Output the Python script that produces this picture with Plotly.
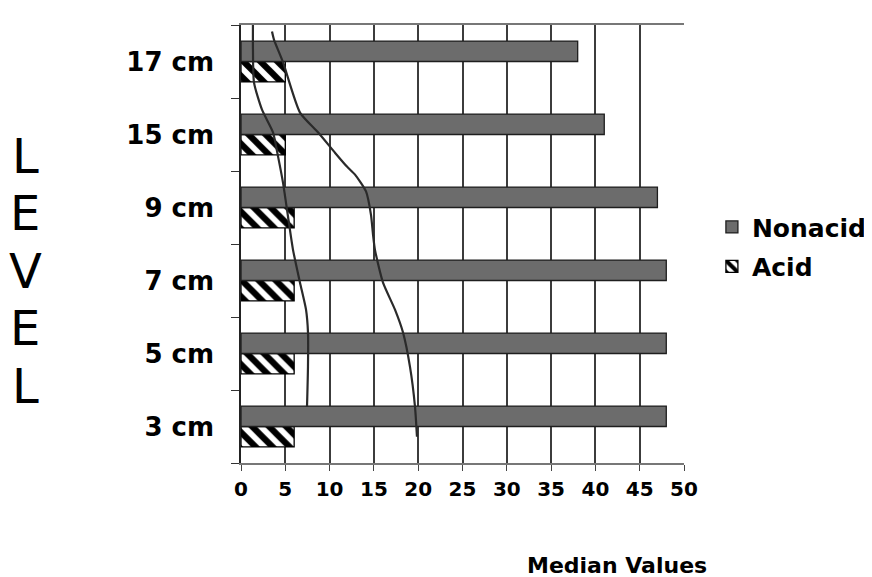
import plotly.graph_objects as go

levels = ["3 cm", "5 cm", "7 cm", "9 cm", "15 cm", "17 cm"]
nonacid = [48, 48, 48, 47, 41, 38]
acid = [6, 6, 6, 6, 5, 5]

x_ticks = [0, 5, 10, 15, 20, 25, 30, 35, 40, 45, 50]

# hand-drawn curves over the chart (x in median-value units, y in level index units: 0 = 3 cm ... 5 = 17 cm)
curve1_x = [1.35, 1.35, 1.47, 2.37, 3.61, 4.18, 4.74, 5.30, 5.87, 6.66, 7.34, 7.56, 7.56, 7.45]
curve1_y = [5.64, 5.16, 4.71, 4.34, 4.03, 3.70, 3.34, 2.88, 2.42, 1.97, 1.60, 1.29, 0.82, 0.27]
curve2_x = [3.50, 3.72, 4.74, 6.66, 8.69, 10.61, 11.96, 12.87, 14.11, 14.67, 14.90, 15.12, 16.03, 17.38, 18.28, 19.07, 19.64, 19.86]
curve2_y = [5.41, 5.30, 4.99, 4.30, 4.03, 3.75, 3.56, 3.45, 3.22, 2.90, 2.63, 2.42, 1.97, 1.60, 1.29, 0.82, 0.27, -0.14]

FONT = "DejaVu Sans"
PAGE_OFFSET = 8  # browser body margin around the figure

fig = go.Figure()
fig.add_trace(go.Bar(
    name="Acid", y=levels, x=acid, orientation="h", legendrank=2, legendgroup="acid",
    marker=dict(color="white", line=dict(color="black", width=1.3),
                pattern=dict(shape="\\", fillmode="replace", fgcolor="#000000", bgcolor="#ffffff",
                             fgopacity=1, size=12, solidity=0.52)),
))
fig.add_trace(go.Bar(
    name="Nonacid", y=levels, x=nonacid, orientation="h", legendrank=1, legendgroup="nonacid",
    marker=dict(color="#6c6c6c", line=dict(color="#1e1e1e", width=1.3)),
))
for cx, cy in [(curve1_x, curve1_y), (curve2_x, curve2_y)]:
    fig.add_trace(go.Scatter(
        x=cx, y=cy, yaxis="y2", mode="lines", showlegend=False, hoverinfo="skip",
        line=dict(color="#2a2a2a", width=2.2, shape="spline", smoothing=0.6),
    ))

fig.update_layout(
    width=872 - PAGE_OFFSET, height=577 - PAGE_OFFSET,
    margin=dict(l=241 - PAGE_OFFSET, r=188, t=25 - PAGE_OFFSET, b=114, autoexpand=False),
    paper_bgcolor="white", plot_bgcolor="white",
    barmode="group", bargap=0.44, bargroupgap=0,
    font=dict(family=FONT, color="black"),
    xaxis=dict(
        range=[0, 50], tickvals=x_ticks, ticktext=[str(v) for v in x_ticks],
        showgrid=True, gridcolor="#3c3c3c", gridwidth=1.5, automargin=False,
        showline=True, linecolor="#777777", linewidth=1.5, mirror=True,
        ticks="outside", ticklen=6, tickcolor="#444444", tickwidth=1.2,
        tickfont=dict(family=FONT, size=20, weight="bold", color="black"),
        ticklabelstandoff=1, zeroline=False,
    ),
    yaxis=dict(
        type="category", categoryorder="array", categoryarray=levels,
        range=[-0.5, 5.5], showgrid=False, automargin=False,
        showline=True, linecolor="#222222", linewidth=1.5,
        ticks="outside", tickson="boundaries", ticklen=8, tickcolor="#333333", tickwidth=1.2,
        tickfont=dict(family=FONT, size=26, weight="bold", color="black"),
        ticklabelstandoff=20,
    ),
    yaxis2=dict(range=[-0.5, 5.5], overlaying="y", visible=False, fixedrange=True, automargin=False),
    legend=dict(
        x=1.063, y=0.591, xanchor="left", yanchor="top", traceorder="grouped",
        font=dict(family=FONT, size=25, weight="bold", color="black"),
        bgcolor="rgba(0,0,0,0)", tracegroupgap=4,
    ),
    showlegend=True,
)

fig.add_annotation(
    text="Median Values", xref="paper", yref="paper", x=(617 - 241) / 443, y=(463 - 565) / 438,
    xanchor="center", yanchor="middle", showarrow=False,
    font=dict(family=FONT, size=22, weight="bold", color="black"),
)

level_letters = ["L", "E", "V", "E", "L"]
letter_y_px = [156, 213, 271, 328, 386]
for ch, py in zip(level_letters, letter_y_px):
    fig.add_annotation(
        text=ch, xref="paper", yref="paper", x=(25 - 241) / 443, y=(463 - py) / 438,
        xanchor="center", yanchor="middle", showarrow=False,
        font=dict(family=FONT, size=48, color="black"),
    )

fig.write_html("out.html")
